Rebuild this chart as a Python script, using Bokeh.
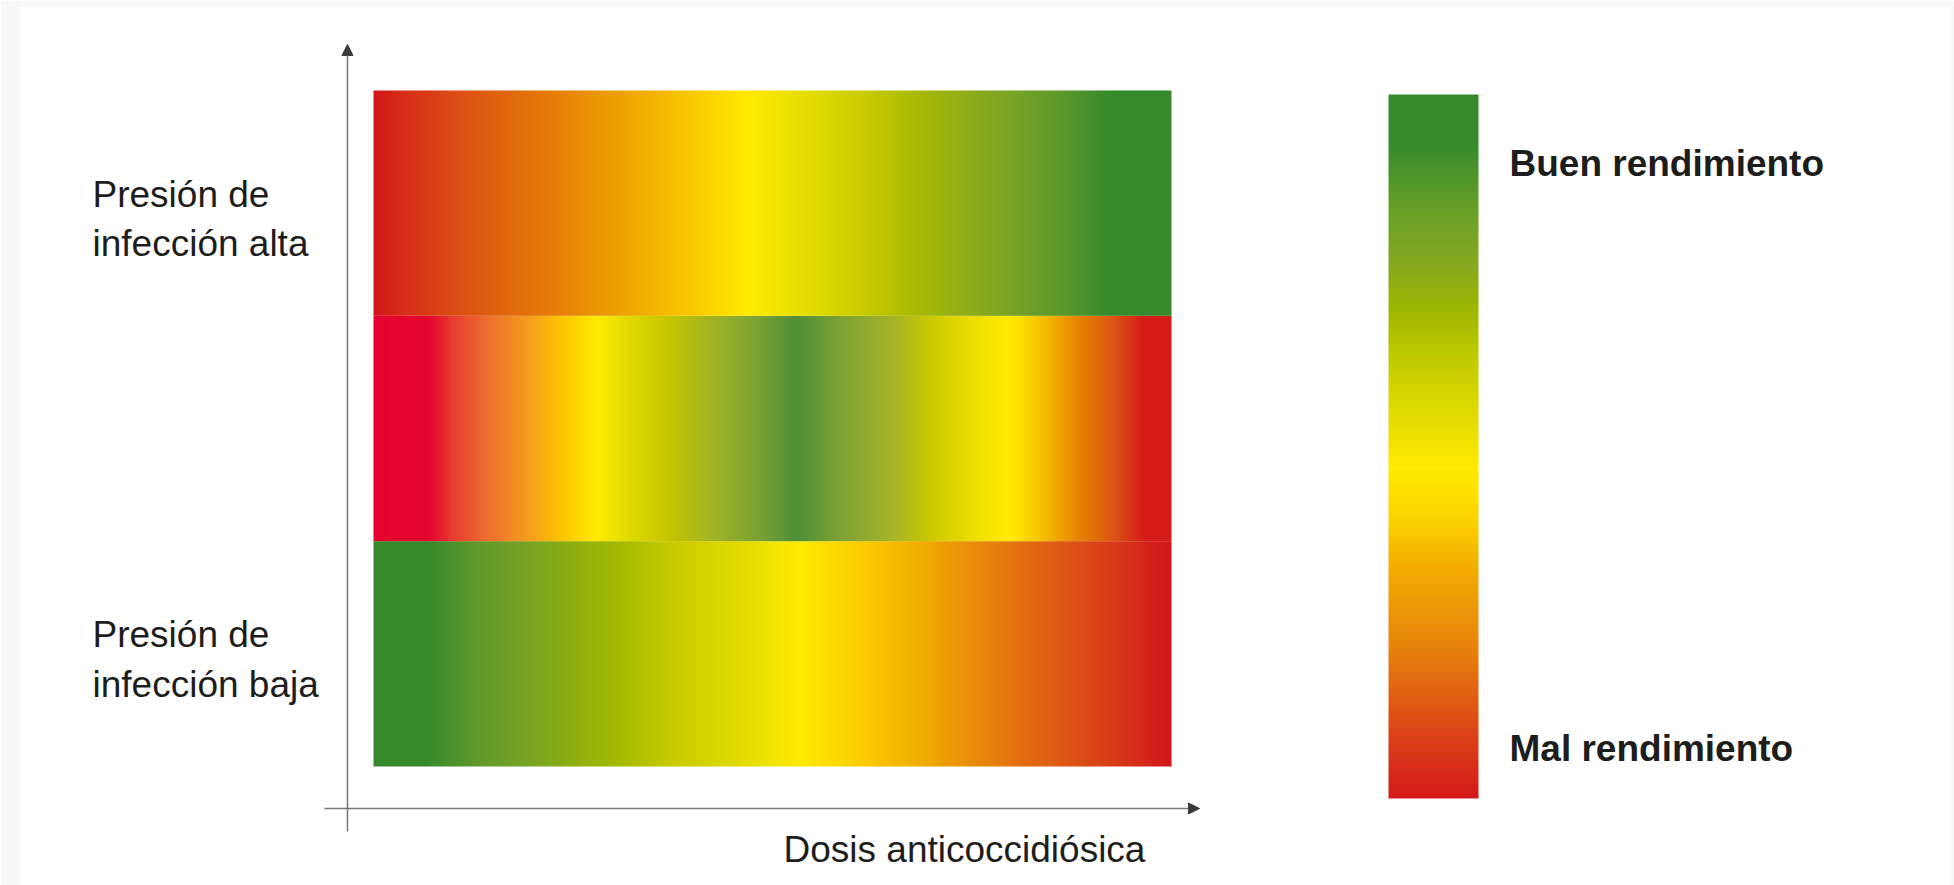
import numpy as np
from bokeh.plotting import figure
from bokeh.models import (Range1d, Arrow, NormalHead, ColorBar, LinearColorMapper,
                          FixedTicker, ColumnDataSource, BoxAnnotation)
from bokeh.embed import file_html
from bokeh.resources import INLINE
from bokeh.core.properties import value

# ---------------- data ----------------
x_title = "Dosis anticoccidiósica"
row_names = ["Presión de\ninfección baja", "", "Presión de\ninfección alta"]  # bottom -> top
row_label_y = [0.475, None, 2.43]

# colour stops along the dose axis (0 = no dose, 1 = max dose)
low_pos = [0.00, 0.067, 0.124, 0.196, 0.304, 0.376, 0.455, 0.535, 0.614, 0.693, 0.765, 0.844, 0.93, 1.00]
low_col = ["#378a2c", "#378a2c", "#5d982a", "#79a423", "#a2b900", "#c8cb00", "#e0da00",
           "#ffea00", "#fbcb00", "#f0a900", "#e8850c", "#de6013", "#d73a18", "#d2151a"]

mid_pos = [0.00, 0.07, 0.10, 0.14, 0.19, 0.235, 0.28, 0.32, 0.37, 0.43, 0.48, 0.53,
           0.585, 0.65, 0.70, 0.76, 0.80, 0.84, 0.88, 0.93, 0.965, 1.00]
mid_col = ["#e4032e", "#e4052e", "#e83e30", "#ed6c2e", "#f49b1e", "#fdc500", "#ffeb00",
           "#e1da00", "#c5c500", "#9db227", "#7da234", "#4e8f37", "#7ea234", "#a5b328",
           "#cccb00", "#f1e100", "#ffea00", "#f6bf00", "#e88800", "#da5214", "#d51c18", "#d51c18"]

high_pos = [0.00, 0.03, 0.12, 0.22, 0.33, 0.40, 0.47, 0.55, 0.62, 0.68, 0.77, 0.86, 0.92, 1.00]
high_col = ["#d2151a", "#d52a18", "#dc5513", "#e67c08", "#f0aa00", "#fac900", "#ffea00",
            "#e2dc00", "#c6ca00", "#a8ba05", "#86a821", "#5e992a", "#378a2c", "#378a2c"]

# performance scale (0 = mal, 1 = buen rendimiento)
scale_pos = [0.00, 0.08, 0.15, 0.22, 0.33, 0.39, 0.47, 0.56, 0.63, 0.69, 0.76, 0.84, 0.93, 1.00]
scale_col = ["#d51a1a", "#da3e18", "#e06212", "#e8850c", "#f2ad00", "#fcd000", "#ffea00",
             "#dcd800", "#bfca00", "#a0b800", "#85a820", "#67a028", "#378a2c", "#378a2c"]
scale_ticks = [0.071, 0.902]
scale_labels = ["Mal rendimiento", "Buen rendimiento"]


# ---------------- helpers ----------------
def hex_to_rgb(h):
    h = h.lstrip("#")
    return [int(h[i:i + 2], 16) for i in (0, 2, 4)]


def gradient(pos, cols, n):
    t = np.linspace(0, 1, n)
    rgb = np.array([hex_to_rgb(c) for c in cols], dtype=float)
    ch = [np.interp(t, pos, rgb[:, k]) for k in range(3)]
    return np.round(np.stack(ch, axis=1)).astype(np.uint8)


def rgba_row(pos, cols, n=800):
    g = gradient(pos, cols, n)
    img = np.empty((1, n), dtype=np.uint32)
    view = img.view(dtype=np.uint8).reshape((1, n, 4))
    view[0, :, 0] = g[:, 0]
    view[0, :, 1] = g[:, 1]
    view[0, :, 2] = g[:, 2]
    view[0, :, 3] = 255
    return img


# ---------------- figure ----------------
W, H = 1954, 885
p = figure(width=W, height=H, output_backend="svg", toolbar_location=None,
           x_range=Range1d(-0.4674, 1.9812), y_range=Range1d(-0.5281, 3.3994),
           x_axis_type=None, y_axis_type=None, min_border=0,
           background_fill_color="white", border_fill_color="white")
p.grid.visible = False
p.outline_line_color = None

# grey page strips around the white card
grey = dict(fill_color="#f7f7f7", fill_alpha=1, line_alpha=0, level="underlay")
p.add_layout(BoxAnnotation(left=0, right=19, left_units="screen", right_units="screen", **grey))
p.add_layout(BoxAnnotation(bottom=3.3728, **grey))
p.add_layout(BoxAnnotation(left=1.9774, **grey))

rows = [(low_pos, low_col), (mid_pos, mid_col), (high_pos, high_col)]
for i, (ps, cs) in enumerate(rows):
    p.image_rgba(image=[rgba_row(ps, cs)], x=0, y=i, dw=1, dh=1)

# axes drawn as arrows
head_kw = dict(size=11, fill_color="#3a3a3a", line_color="#3a3a3a")
p.add_layout(Arrow(end=NormalHead(**head_kw), x_start=-0.0326, y_start=-0.2885,
                   x_end=-0.0326, y_end=3.204, line_color="#777777", line_width=1.5))
p.add_layout(Arrow(end=NormalHead(**head_kw), x_start=-0.0614, y_start=-0.1864,
                   x_end=1.0351, y_end=-0.1864, line_color="#777777", line_width=1.5))

# row labels
lab = ColumnDataSource(dict(
    x=[-0.3521 for n in row_names if n],
    y=[y for n, y in zip(row_names, row_label_y) if n],
    text=[n for n in row_names if n]))
p.text(x="x", y="y", text="text", source=lab, text_font=value("Liberation Sans"),
       text_font_size=value("37px"), text_color="#1d1d1b", text_align="left",
       text_baseline="middle", text_line_height=1.2)

# x title
p.text(x=[0.5138], y=[-0.3683], text=[x_title], text_font=value("Liberation Sans"),
       text_font_size=value("37px"), text_color="#1d1d1b", text_align="left",
       text_baseline="middle")

# performance colour bar
palette = ["#%02x%02x%02x" % tuple(c) for c in gradient(scale_pos, scale_col, 256)]
mapper = LinearColorMapper(palette=palette, low=0, high=1)
cb = ColorBar(color_mapper=mapper, orientation="vertical", location=(1388, 87),
              width=90, height=704, padding=0, margin=0,
              ticker=FixedTicker(ticks=scale_ticks),
              major_label_overrides={t: l for t, l in zip(scale_ticks, scale_labels)},
              major_tick_line_color=None, minor_tick_line_color=None,
              bar_line_color=None, border_line_color=None, background_fill_alpha=0,
              label_standoff=31,
              major_label_text_font="Liberation Sans", major_label_text_font_size="37px",
              major_label_text_font_style="bold", major_label_text_color="#1d1d1b")
p.add_layout(cb, "center")

open("out.html", "w").write(file_html(p, INLINE))
